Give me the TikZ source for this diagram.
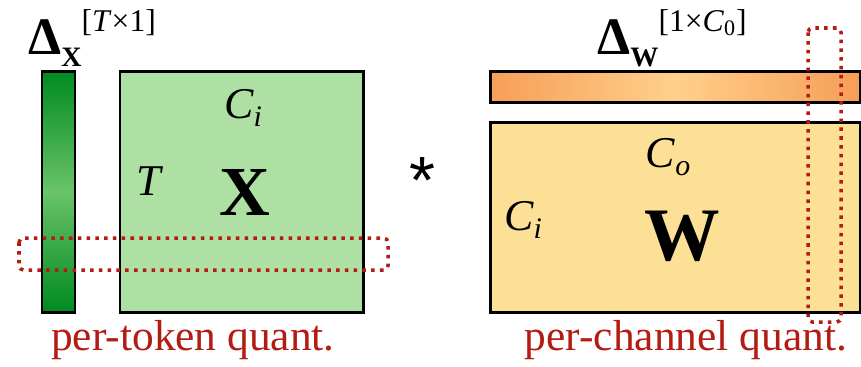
\documentclass[tikz,border=0pt]{standalone}
\usepackage{fontspec}
\setmainfont{Liberation Serif}
\newfontfamily\starfont{Liberation Sans}
\usetikzlibrary{positioning}
\definecolor{tokgreen}{RGB}{0,138,32}
\definecolor{tokgreenlt}{RGB}{105,195,105}
\definecolor{xfill}{RGB}{174,224,164}
\definecolor{wfill}{RGB}{251,224,150}
\definecolor{dworange}{RGB}{246,158,88}
\definecolor{dwlight}{RGB}{255,208,138}
\definecolor{quantred}{RGB}{178,28,18}
\tikzset{
  matbox/.style={draw=black,line width=1.7pt},
  quantwin/.style={draw=quantred,line width=2pt,dash pattern=on 2pt off 3pt,
    rounded corners=2.5pt},
  symlabel/.style={inner sep=0pt,anchor=base,font=\fontsize{25}{30}\selectfont},
  quantlabel/.style={inner sep=0pt,anchor=base,text=quantred,
    font=\fontsize{24.7}{30}\selectfont},
  every picture/.style={font=\fontsize{25}{30}\selectfont}
}
\newcommand{\bigdelta}{{\fontsize{30}{30}\bfseries Δ}}
\newcommand{\dsub}[1]{\raisebox{-7pt}{\fontsize{16}{18}\bfseries #1}}
\newcommand{\dsup}[1]{\raisebox{13pt}{\fontsize{18}{20}\selectfont #1}}
\newcommand{\csub}[1]{\raisebox{-5pt}{\fontsize{17}{20}\selectfont #1}}

\begin{document}
\begin{tikzpicture}[x=0.02cm,y=-0.02cm]
  \useasboundingbox (0,0) rectangle (861,366);
  % activations, scaled per token
  \path[matbox,top color=tokgreen,bottom color=tokgreen,middle color=tokgreenlt]
    (42,71) rectangle (75,312);
  \path[matbox,fill=xfill] (120,71) rectangle (363,312);
  \node[anchor=base west,inner sep=0pt] (dx) at (28,54)
    {\bigdelta\dsub{X}\dsup{[\textit{T}×1]}};
  \node[symlabel] (xci) at (243,118) {\textit{C}\csub{\textit{i}}};
  \node[symlabel] (xt) at (150,195) {\textit{T}};
  \node[symlabel,font=\fontsize{40}{44}\bfseries] (xmat) at (245,215) {X};
  \draw[quantwin] (19,238) rectangle (388,270);
  \node[quantlabel] (tokq) at (193,350) {per-token quant.};
  \node[inner sep=0pt,font=\fontsize{38}{38}\starfont] (mul) at (422,181) {*};
  % weights, scaled per output channel
  \path[matbox,left color=dworange,right color=dworange,middle color=dwlight]
    (490,71) rectangle (860,102);
  \path[matbox,fill=wfill] (490,122) rectangle (860,312);
  \node[anchor=base west,inner sep=0pt] (dw) at (597,54)
    {\bigdelta\dsub{W}\dsup{[1×\textit{C}\textsubscript{0}]}};
  \node[symlabel] (wco) at (668,167) {\textit{C}\csub{\textit{o}}};
  \node[symlabel] (wci) at (523,230) {\textit{C}\csub{\textit{i}}};
  \node[symlabel,font=\fontsize{43}{46}\bfseries] (wmat) at (682,260) {W};
  \draw[quantwin] (808,28) rectangle (841,322);
  \node[quantlabel] (chq) at (686,350) {per-channel quant.};
\end{tikzpicture}
\end{document}
